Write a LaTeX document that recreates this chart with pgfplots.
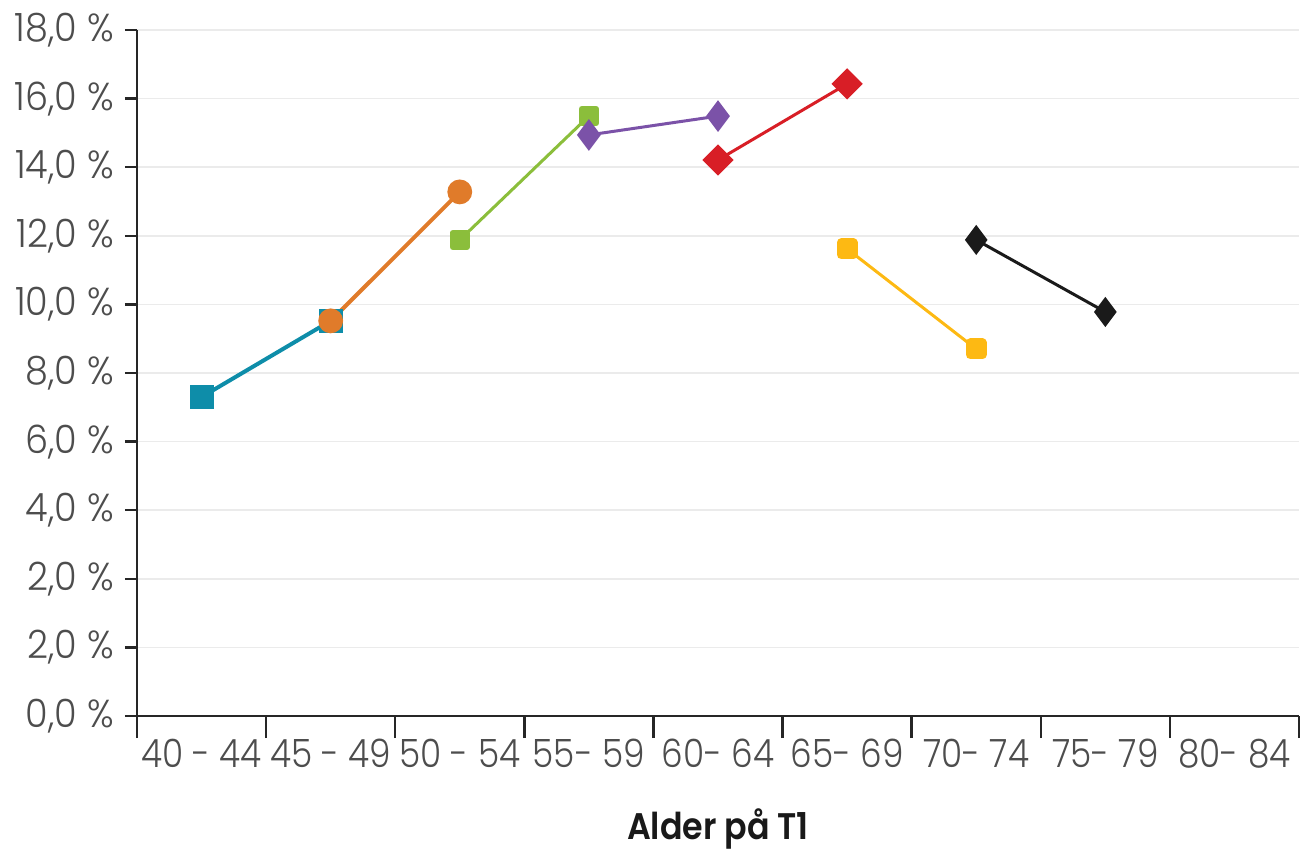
\documentclass[border=0pt]{standalone}
\usepackage{fontspec}
\setmainfont{Poppins}[UprightFont=* Light, BoldFont=* SemiBold]
\newfontfamily\xtickfont{Poppins}[UprightFont=* Light, FakeStretch=0.88]
\newfontfamily\ytickfont{Poppins}[UprightFont=* Light, FakeStretch=0.94]
\newfontfamily\titlefont{Poppins}[UprightFont=* SemiBold, FakeStretch=0.9]
\usepackage{pgfplots}
\pgfplotsset{compat=1.18}
\definecolor{cteal}{HTML}{0E8DA9}
\definecolor{corange}{HTML}{E07B2A}
\definecolor{cgreen}{HTML}{8BBE3B}
\definecolor{cpurple}{HTML}{7B52A8}
\definecolor{cred}{HTML}{D81E26}
\definecolor{cyellow}{HTML}{FDB913}
\definecolor{cblack}{HTML}{1A1A1A}
\definecolor{ctext}{HTML}{4D4D4D}
\begin{document}
\begin{tikzpicture}
\begin{axis}[
  at={(0,0)}, anchor=south west,
  scale only axis, width=581pt, height=343pt,
  xmin=-0.5, xmax=8.5, ymin=-2, ymax=18,
  axis x line*=bottom, axis y line*=left,
  axis line style={line width=1.2pt, color=black!85},
  xtick={0,...,8},
  xticklabels={40 - 44,45 - 49,50 - 54,55- 59,60- 64,65- 69,70- 74,75- 79,80- 84},
  minor xtick={-0.5,0.5,1.5,2.5,3.5,4.5,5.5,6.5,7.5,8.5},
  major x tick style={draw=none},
  minor x tick style={line width=1.2pt, color=black!85},
  major tick length=6pt, minor tick length=11pt,
  tick align=outside,
  ytick={-2,0,2,4,6,8,10,12,14,16,18},
  yticklabels={{0,0 \%},{2,0 \%},{2,0 \%},{4,0 \%},{6,0 \%},{8,0 \%},{10,0 \%},{12,0 \%},{14,0 \%},{16,0 \%},{18,0 \%}},
  y tick style={line width=1.2pt, color=black!85},
  ymajorgrids, major grid style={line width=0.75pt, color=black!8},
  /pgf/number format/assume math mode=true,
  tick label style={color=ctext},
  xticklabel style={font=\xtickfont\fontsize{19.5}{24}\selectfont, anchor=north, yshift=-2pt},
  yticklabel style={font=\ytickfont\fontsize{19.5}{24}\selectfont, xshift=-2pt},
  xlabel={Alder på T1},
  xlabel style={font=\titlefont\fontsize{18.5}{22}\selectfont, color=black!90, at={(axis description cs:0.5,-0.180)}, anchor=base},
  clip=false,
]
\addplot[cteal, line width=2pt, mark=square*, mark size=5pt] coordinates {(0,7.30) (1,9.52)};
\addplot[corange, line width=2pt, mark=*, mark size=5.2pt] coordinates {(1,9.52) (2,13.28)};
\addplot[cgreen, line width=1.5pt, mark=square*, mark size=3.6pt, mark options={line join=round, line width=3pt}] coordinates {(2,11.88) (3,15.49)};
\addplot[cpurple, line width=1.5pt, mark=diamond*, mark size=6.7pt] coordinates {(3,14.94) (4,15.49)};
\addplot[cred, line width=1.5pt, mark=square*, mark size=4.8pt, mark options={rotate=45}] coordinates {(4,14.21) (5,16.43)};
\addplot[cyellow, line width=1.5pt, mark=square*, mark size=3pt, mark options={line join=round, line width=4.5pt}] coordinates {(5,11.62) (6,8.70)};
\addplot[cblack, line width=1.5pt, mark=diamond*, mark size=6.3pt] coordinates {(6,11.88) (7,9.78)};
\end{axis}
\pgfresetboundingbox
\path[use as bounding box] (-68.5pt,-68pt) rectangle (581.5pt,358pt);
\end{tikzpicture}
\end{document}
